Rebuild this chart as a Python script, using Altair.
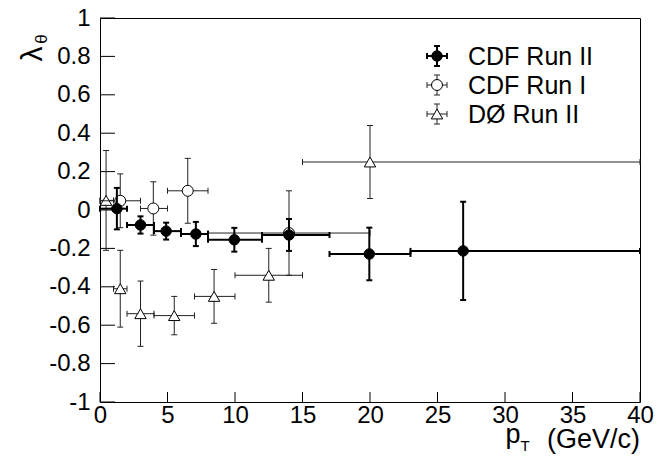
import altair as alt
import pandas as pd

# ---------------- data ----------------
series_names = ["CDF Run II", "CDF Run I", "DØ Run II"]

cdf2_x = [1.25, 3.0, 4.9, 7.1, 9.95, 14.0, 19.95, 26.9]
cdf2_xlo = [0, 2, 4, 6, 8, 12, 17, 23]
cdf2_xhi = [2, 4, 6, 8, 12, 17, 23, 40]
cdf2_y = [0.007, -0.078, -0.11, -0.125, -0.155, -0.13, -0.229, -0.213]
cdf2_err = [0.108, 0.045, 0.044, 0.063, 0.062, 0.083, 0.137, 0.256]

cdf1_x = [1.5, 3.95, 6.5, 14.0]
cdf1_xlo = [0, 3, 5, 8]
cdf1_xhi = [3, 5, 8, 20]
cdf1_y = [0.048, 0.008, 0.10, -0.12]
cdf1_err = [0.14, 0.139, 0.169, 0.22]

d0_x = [0.45, 1.5, 3.0, 5.5, 8.45, 12.5, 20.0]
d0_xlo = [0, 1, 2, 4, 7, 10, 15]
d0_xhi = [1, 2, 4, 7, 10, 15, 40]
d0_y = [0.05, -0.41, -0.54, -0.55, -0.45, -0.34, 0.25]
d0_err = [0.26, 0.20, 0.17, 0.10, 0.14, 0.14, 0.19]

x_ticks = [0, 5, 10, 15, 20, 25, 30, 35, 40]
y_ticks = [-1, -0.8, -0.6, -0.4, -0.2, 0, 0.2, 0.4, 0.6, 0.8, 1]

# ---------------- layout ----------------
W, H = 540, 384
FONT = "Liberation Sans"
THIN = "#222222"


def frame(name, x, lo, hi, y, err):
    return pd.DataFrame({
        "series": name, "x": x, "xlo": lo, "xhi": hi, "y": y,
        "ylo": [a - b for a, b in zip(y, err)],
        "yhi": [a + b for a, b in zip(y, err)],
    })


df_cdf2 = frame(series_names[0], cdf2_x, cdf2_xlo, cdf2_xhi, cdf2_y, cdf2_err)
df_cdf1 = frame(series_names[1], cdf1_x, cdf1_xlo, cdf1_xhi, cdf1_y, cdf1_err)
df_d0 = frame(series_names[2], d0_x, d0_xlo, d0_xhi, d0_y, d0_err)

xscale = alt.Scale(domain=[0, 40], nice=False, zero=False)
yscale = alt.Scale(domain=[-1, 1], nice=False, zero=False)

xaxis = alt.Axis(values=x_ticks, ticks=False, domain=False, grid=False,
                 labelFontSize=24, labelFont=FONT, labelColor="black",
                 labelPadding=1, labelFlush=False, labelOverlap=False,
                 labelBound=False, title=None)
yaxis = alt.Axis(values=y_ticks, ticks=False, domain=False, grid=False,
                 labelFontSize=24, labelFont=FONT, labelColor="black",
                 labelPadding=10, labelFlush=False, labelOverlap=False,
                 labelBound=False, title=None,
                 labelExpr="toString(round(datum.value*10)/10)")


def X(f):
    return alt.X(f, type="quantitative", scale=xscale, axis=xaxis)


def Y(f):
    return alt.Y(f, type="quantitative", scale=yscale, axis=yaxis)


def errbars(df, w, color):
    base = alt.Chart(df)
    v = base.mark_rule(strokeWidth=w, color=color).encode(x=X("x"), y=Y("ylo"), y2="yhi")
    h = base.mark_rule(strokeWidth=w, color=color).encode(x=X("xlo"), x2="xhi", y=Y("y"))
    tk = dict(size=6, thickness=w, color=color, opacity=1)
    c1 = base.mark_tick(orient="horizontal", **tk).encode(x=X("x"), y=Y("ylo"))
    c2 = base.mark_tick(orient="horizontal", **tk).encode(x=X("x"), y=Y("yhi"))
    c3 = base.mark_tick(orient="vertical", **tk).encode(x=X("xlo"), y=Y("y"))
    c4 = base.mark_tick(orient="vertical", **tk).encode(x=X("xhi"), y=Y("y"))
    return [v, h, c1, c2, c3, c4]


MARKERS = [
    dict(shape="circle", size=110, fill="black", stroke="black", strokeWidth=1, opacity=1),
    dict(shape="circle", size=120, fill="white", stroke="black", strokeWidth=1, opacity=1),
    dict(shape="triangle-up", size=130, fill="white", stroke="black", strokeWidth=1, opacity=1),
]
WIDTHS = [2, 1, 1]
COLORS = ["black", THIN, THIN]

d0_pts = alt.Chart(df_d0).mark_point(**MARKERS[2]).encode(x=X("x"), y=Y("y"))
cdf1_pts = alt.Chart(df_cdf1).mark_point(**MARKERS[1]).encode(x=X("x"), y=Y("y"))
cdf2_pts = alt.Chart(df_cdf2).mark_point(**MARKERS[0]).encode(x=X("x"), y=Y("y"))

# inward axis ticks
xt = alt.Chart(pd.DataFrame({"v": x_ticks})).mark_rule(color="black", strokeWidth=1).encode(
    x=X("v"), y=alt.value(H), y2=alt.value(H - 10))
yt = alt.Chart(pd.DataFrame({"v": y_ticks})).mark_rule(color="black", strokeWidth=1).encode(
    y=Y("v"), x=alt.value(0), x2=alt.value(15))

# hand-built legend (marker + error cross + label)
legend_layers = []
LX, LY0, LDY, ARM, CAP = 337, 38, 29, 10, 3
for i, name in enumerate(series_names):
    d = alt.Chart(pd.DataFrame({"series": [name]}))
    cy = LY0 + i * LDY
    w, col = WIDTHS[i], COLORS[i]
    legend_layers += [
        d.mark_rule(strokeWidth=w, color=col).encode(x=alt.value(LX - ARM), x2=alt.value(LX + ARM), y=alt.value(cy)),
        d.mark_rule(strokeWidth=w, color=col).encode(x=alt.value(LX), y=alt.value(cy - ARM), y2=alt.value(cy + ARM)),
        d.mark_rule(strokeWidth=w, color=col).encode(x=alt.value(LX - ARM), y=alt.value(cy - CAP), y2=alt.value(cy + CAP)),
        d.mark_rule(strokeWidth=w, color=col).encode(x=alt.value(LX + ARM), y=alt.value(cy - CAP), y2=alt.value(cy + CAP)),
        d.mark_rule(strokeWidth=w, color=col).encode(y=alt.value(cy - ARM), x=alt.value(LX - CAP), x2=alt.value(LX + CAP)),
        d.mark_rule(strokeWidth=w, color=col).encode(y=alt.value(cy + ARM), x=alt.value(LX - CAP), x2=alt.value(LX + CAP)),
        d.mark_point(**MARKERS[i]).encode(x=alt.value(LX), y=alt.value(cy)),
        d.mark_text(fontSize=25, font=FONT, color="black", align="left", baseline="middle").encode(
            x=alt.value(LX + 31), y=alt.value(cy + 1), text="series:N"),
    ]

# axis titles
lam = alt.Chart(pd.DataFrame({"t": ["λ"]})).mark_text(angle=270, fontSize=30, font=FONT, color="black").encode(
    text="t:N", x=alt.value(-67), y=alt.value(36))
theta = alt.Chart(pd.DataFrame({"t": ["θ"]})).mark_text(angle=270, fontSize=17, font=FONT, color="black").encode(
    text="t:N", x=alt.value(-58), y=alt.value(21))
xt_main = alt.Chart(pd.DataFrame({"t": ["(GeV/c)"]})).mark_text(fontSize=27, font=FONT, color="black",
                                                                  align="right", baseline="alphabetic").encode(
    text="t:N", x=alt.value(W), y=alt.value(430))
xt_p = alt.Chart(pd.DataFrame({"t": ["p"]})).mark_text(fontSize=27, font=FONT, color="black",
                                                         align="center", baseline="alphabetic").encode(
    text="t:N", x=alt.value(413), y=alt.value(425))
xt_T = alt.Chart(pd.DataFrame({"t": ["T"]})).mark_text(fontSize=15, font=FONT, color="black",
                                                         align="center", baseline="alphabetic").encode(
    text="t:N", x=alt.value(425), y=alt.value(433))

layers = (
    [xt, yt]
    + errbars(df_d0, 1, THIN) + [d0_pts]
    + errbars(df_cdf1, 1, THIN) + [cdf1_pts]
    + errbars(df_cdf2, 2, "black") + [cdf2_pts]
    + legend_layers
    + [lam, theta, xt_main, xt_p, xt_T]
)

chart = alt.layer(*layers).properties(
    width=W, height=H,
    autosize=alt.AutoSizeParams(type="none"),
    padding={"left": 92, "top": 10, "right": 15, "bottom": 52},
    background="white",
).configure_view(stroke="black", strokeWidth=1)

chart.save("out.html", embed_options={"renderer": "svg", "actions": False})
